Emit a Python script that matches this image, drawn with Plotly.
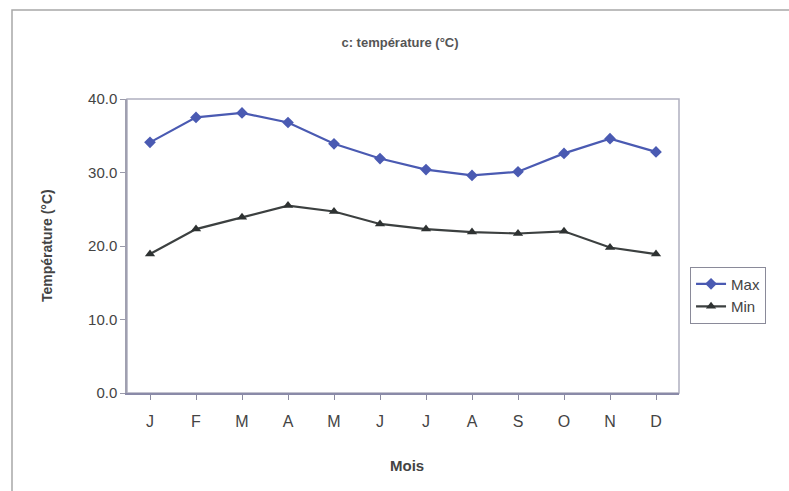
import plotly.graph_objects as go

months = ["J", "F", "M", "A", "M", "J", "J", "A", "S", "O", "N", "D"]
t_max = [34.1, 37.5, 38.1, 36.8, 33.9, 31.9, 30.4, 29.6, 30.1, 32.6, 34.6, 32.8]
t_min = [18.9, 22.3, 23.9, 25.5, 24.7, 23.0, 22.3, 21.9, 21.7, 22.0, 19.8, 18.9]
y_ticks = [0, 10, 20, 30, 40]

x = list(range(len(months)))
FONT = "Arial, Liberation Sans, sans-serif"

fig = go.Figure()
fig.add_trace(go.Scatter(
    x=x, y=t_max, name="Max", mode="lines+markers",
    line=dict(color="#4a5ab2", width=2.2),
    marker=dict(symbol="diamond", size=9, color="#4a5ab2"),
))
fig.add_trace(go.Scatter(
    x=x, y=t_min, name="Min", mode="lines+markers",
    line=dict(color="#3c4040", width=2.2),
    marker=dict(symbol="triangle-up", size=9, color="#2e3232"),
))

fig.update_layout(
    width=789, height=491,
    margin=dict(l=127, r=110, t=99, b=98),
    paper_bgcolor="white", plot_bgcolor="white",
    font=dict(family=FONT, color="#444444"),
    title=dict(text="<b>c: température (°C)</b>", x=(400 / 789), xanchor="center",
               y=1 - 42 / 491, yanchor="middle",
               font=dict(size=13, color="#555555", family=FONT)),
    showlegend=True,
    legend=dict(x=1.02, y=0.43, xanchor="left", yanchor="top",
                bordercolor="#8a8a99", borderwidth=1, bgcolor="white",
                font=dict(size=15, color="#444444", family=FONT),
                itemwidth=30, tracegroupgap=0),
)

fig.update_xaxes(
    range=[-0.5, 11.5], tickmode="array", tickvals=x, ticktext=months,
    ticks="outside", ticklen=5, tickcolor="#8a8aa0", tickson="boundaries",
    ticklabelstandoff=8,
    showline=True, linecolor="#8a8aa8", linewidth=2, mirror=False,
    showgrid=False, zeroline=False,
    tickfont=dict(size=16, color="#444444", family=FONT),
)
fig.update_yaxes(
    range=[0, 40], tickvals=y_ticks, tickformat=".1f",
    ticks="outside", ticklen=5, tickcolor="#9a9aaa",
    showline=True, linecolor="#a0a0b0", linewidth=1.5,
    showgrid=False, zeroline=False,
    tickfont=dict(size=15, color="#444444", family=FONT),
)

# plot-area border (top and right)
fig.add_shape(type="rect", xref="paper", yref="paper", x0=0, x1=1, y0=0, y1=1,
              line=dict(color="#b0b0c0", width=1.5), layer="below")
# outer chart border
fig.add_shape(type="rect", xref="paper", yref="paper",
              x0=(12 - 127) / 552, x1=1.4, y0=-0.5, y1=(393 - 10) / 294,
              line=dict(color="#a8a8a8", width=1.5))

fig.add_annotation(text="<b>Température (°C)</b>", xref="paper", yref="paper",
                   x=(47 - 127) / 552, y=0.5, textangle=-90, showarrow=False,
                   xanchor="center", yanchor="middle",
                   font=dict(size=14, color="#444444", family=FONT))
fig.add_annotation(text="<b>Mois</b>", xref="paper", yref="paper",
                   x=(407 - 127) / 552, y=(393 - 465) / 294, showarrow=False,
                   xanchor="center", yanchor="middle",
                   font=dict(size=15, color="#444444", family=FONT))

fig.write_html("out.html")
